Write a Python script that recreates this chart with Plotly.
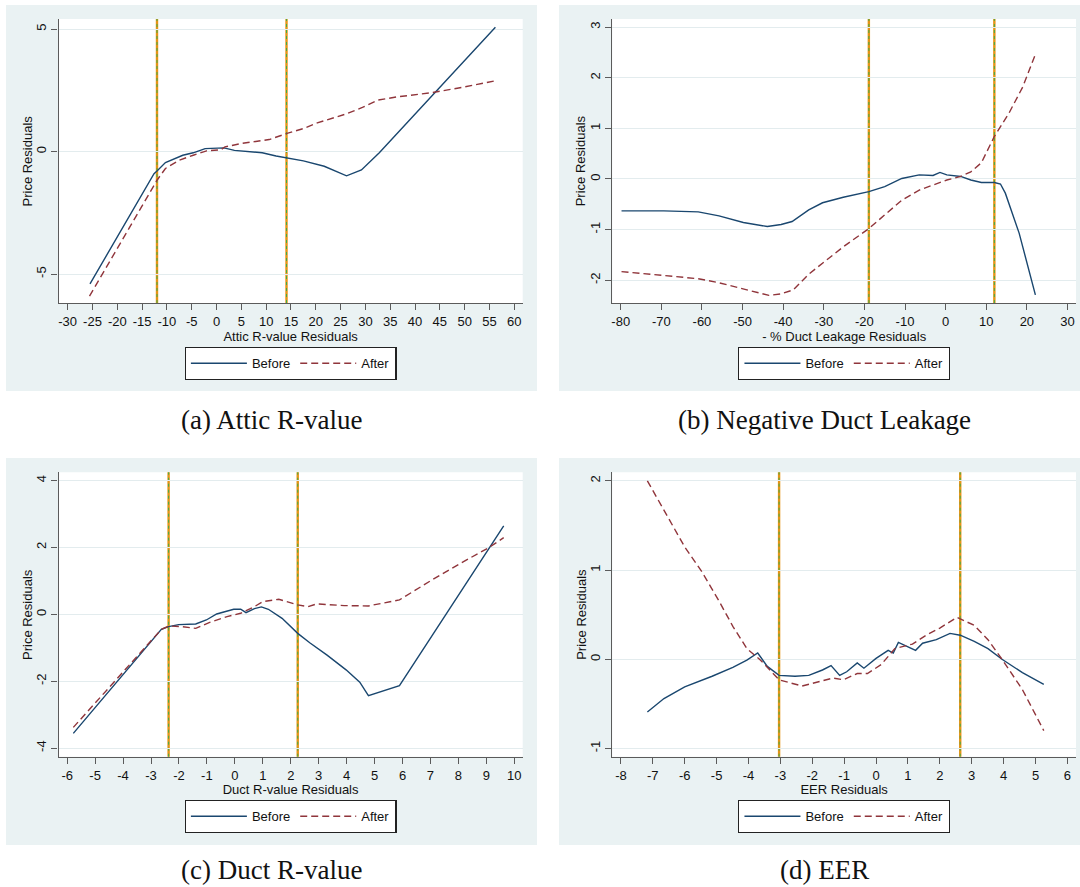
import plotly.graph_objects as go

# ---------------- data ----------------
# (a) Attic R-value
attic_before_x = [-25.5, -12.6, -12.0, -10.3, -6.8, -4.7, -2.3, 1.5, 3.6, 6.4, 9.2, 12.0, 14.2, 17.5, 21.7, 26.2, 29.2, 32.8, 56.2]
attic_before_y = [-5.40, -0.90, -0.79, -0.45, -0.15, -0.05, 0.12, 0.15, 0.05, 0.01, -0.05, -0.18, -0.26, -0.38, -0.60, -0.99, -0.75, -0.05, 5.07]
attic_after_x = [-25.6, -12.0, -10.3, -7.5, -4.7, -2.0, 0.8, 1.7, 5.0, 10.6, 14.2, 17.5, 20.3, 26.2, 29.4, 32.5, 36.3, 43.3, 49.5, 56.2]
attic_after_y = [-5.90, -1.17, -0.69, -0.35, -0.15, 0.03, 0.07, 0.19, 0.33, 0.49, 0.74, 0.94, 1.17, 1.54, 1.80, 2.10, 2.23, 2.40, 2.62, 2.89]
attic_cutoffs = [-12.0, 14.1]

# (b) Negative duct leakage
leak_before_x = [-79.8, -69.4, -60.9, -55.8, -49.8, -43.9, -40.5, -37.8, -33.7, -30.3, -25.2, -18.9, -15.0, -10.8, -6.5, -3.1, -1.4, 0.3, 3.7, 6.2, 8.8, 12.0, 13.5, 14.7, 18.1, 22.1]
leak_before_y = [-0.63, -0.63, -0.65, -0.73, -0.86, -0.94, -0.90, -0.84, -0.61, -0.47, -0.36, -0.25, -0.15, 0.01, 0.08, 0.07, 0.13, 0.08, 0.05, -0.02, -0.07, -0.07, -0.10, -0.28, -1.07, -2.29]
leak_after_x = [-79.8, -70.2, -60.9, -55.8, -49.0, -43.5, -40.5, -37.5, -33.7, -30.3, -25.2, -18.9, -15.0, -10.8, -6.5, -3.1, 0.3, 3.7, 6.2, 8.8, 12.0, 15.6, 19.0, 22.1]
leak_after_y = [-1.83, -1.90, -1.97, -2.05, -2.19, -2.30, -2.27, -2.19, -1.88, -1.67, -1.34, -0.98, -0.71, -0.42, -0.22, -0.12, -0.02, 0.05, 0.14, 0.32, 0.84, 1.30, 1.82, 2.46]
leak_cutoffs = [-18.9, 12.0]

# (c) Duct R-value
duct_before_x = [-5.78, -2.63, -2.37, -2.01, -1.40, -1.02, -0.65, -0.28, -0.04, 0.21, 0.40, 0.70, 0.95, 1.20, 1.69, 2.25, 2.68, 3.30, 3.98, 4.47, 4.78, 5.89, 9.62]
duct_before_y = [-3.56, -0.45, -0.37, -0.31, -0.29, -0.17, 0.01, 0.10, 0.15, 0.15, 0.05, 0.17, 0.22, 0.15, -0.12, -0.57, -0.85, -1.22, -1.66, -2.03, -2.43, -2.13, 2.64]
duct_after_x = [-5.78, -2.63, -2.37, -1.89, -1.40, -0.90, -0.28, 0.21, 0.70, 1.01, 1.57, 2.25, 2.62, 2.93, 3.91, 4.78, 5.89, 7.00, 8.11, 9.10, 9.62]
duct_after_y = [-3.38, -0.45, -0.35, -0.37, -0.42, -0.24, -0.07, 0.03, 0.23, 0.38, 0.45, 0.28, 0.23, 0.31, 0.26, 0.25, 0.43, 1.00, 1.54, 2.00, 2.29]
duct_cutoffs = [-2.37, 2.25]

# (d) EER
eer_before_x = [-7.17, -6.65, -6.00, -5.14, -4.49, -4.05, -3.71, -3.41, -3.04, -2.54, -2.11, -1.68, -1.41, -1.14, -0.92, -0.59, -0.38, 0.00, 0.38, 0.54, 0.70, 1.03, 1.24, 1.46, 1.89, 2.32, 2.64, 3.08, 3.51, 3.95, 4.59, 5.26]
eer_before_y = [-0.59, -0.44, -0.31, -0.19, -0.09, -0.01, 0.07, -0.08, -0.18, -0.19, -0.18, -0.12, -0.07, -0.18, -0.14, -0.04, -0.10, 0.01, 0.10, 0.07, 0.19, 0.14, 0.10, 0.18, 0.22, 0.29, 0.27, 0.20, 0.12, 0.00, -0.15, -0.28]
eer_after_x = [-7.17, -6.65, -6.00, -5.46, -4.92, -4.49, -4.05, -3.62, -3.04, -2.32, -1.89, -1.35, -1.03, -0.59, -0.27, 0.16, 0.59, 1.14, 1.57, 2.00, 2.54, 3.08, 3.51, 3.95, 4.59, 5.26]
eer_after_y = [2.00, 1.67, 1.26, 0.98, 0.65, 0.37, 0.12, -0.01, -0.23, -0.30, -0.26, -0.21, -0.23, -0.16, -0.16, -0.06, 0.12, 0.17, 0.27, 0.35, 0.47, 0.38, 0.22, 0.00, -0.34, -0.80]
eer_cutoffs = [-3.04, 2.64]

# axis ticks
attic_xticks = list(range(-30, 61, 5))
leak_xticks = list(range(-80, 31, 10))
duct_xticks = list(range(-6, 11, 1))
eer_xticks = list(range(-8, 7, 1))
attic_yticks = [-5, 0, 5]
leak_yticks = [-2, -1, 0, 1, 2, 3]
duct_yticks = [-4, -2, 0, 2, 4]
eer_yticks = [-1, 0, 1, 2]

x_titles = ["Attic R-value Residuals", "- % Duct Leakage Residuals", "Duct R-value Residuals", "EER Residuals"]
y_title = "Price Residuals"
captions = ["(a) Attic R-value", "(b) Negative Duct Leakage", "(c) Duct R-value", "(d) EER"]
series_names = ["Before", "After"]

# ---------------- layout geometry (pixels) ----------------
W, H = 1080, 887
SANS = "Liberation Sans, Arial, sans-serif"
SERIF = "Liberation Serif, Times New Roman, serif"
NAVY = "#1a476f"
MAROON = "#90353b"
PANEL_BG = "#eaf2f3"
AXIS_COL = "#5b5b5b"
TXT = "#111111"

def fx(p):
    return p / W

def fy(p):
    return 1 - p / H

# outer panel box, plot box (left, top, right, bottom), legend top, caption centre
panels = [
    dict(outer=(6, 5, 537, 391), plot=(58.5, 19, 522.7, 303), legend_top=347, cap=(271, 420)),
    dict(outer=(559, 5, 1090, 391), plot=(612.3, 19, 1076, 303), legend_top=347, cap=(824.5, 420)),
    dict(outer=(6, 458, 537, 845), plot=(58.5, 472.3, 522.7, 756.7), legend_top=800, cap=(271, 870)),
    dict(outer=(559, 458, 1090, 845), plot=(612.3, 472.3, 1076, 756.7), legend_top=800, cap=(824.5, 870)),
]

series = [
    (attic_before_x, attic_before_y, attic_after_x, attic_after_y, attic_cutoffs, attic_xticks, attic_yticks, (-31.85, 61.7), (-6.18, 5.41)),
    (leak_before_x, leak_before_y, leak_after_x, leak_after_y, leak_cutoffs, leak_xticks, leak_yticks, (-82.07, 32.1), (-2.45, 3.16)),
    (duct_before_x, duct_before_y, duct_after_x, duct_after_y, duct_cutoffs, duct_xticks, duct_yticks, (-6.31, 10.30), (-4.257, 4.245)),
    (eer_before_x, eer_before_y, eer_after_x, eer_after_y, eer_cutoffs, eer_xticks, eer_yticks, (-8.27, 6.27), (-1.092, 2.096)),
]

fig = go.Figure()
layout = dict(
    width=W, height=H,
    margin=dict(l=0, r=0, t=0, b=0),
    paper_bgcolor="white",
    plot_bgcolor="white",
    showlegend=True,
    font=dict(family=SANS, size=13, color=TXT),
)
shapes = []
annotations = []

for i, (pan, ser) in enumerate(zip(panels, series)):
    n = "" if i == 0 else str(i + 1)
    bx, by, ax_, ay, cuts, xt, yt, xr, yr = ser
    lg = "legend" + n

    fig.add_trace(go.Scatter(
        x=bx, y=by, mode="lines", name=series_names[0],
        line=dict(color=NAVY, width=1.4),
        xaxis="x" + n, yaxis="y" + n, legend=lg,
    ))
    fig.add_trace(go.Scatter(
        x=ax_, y=ay, mode="lines", name=series_names[1],
        line=dict(color=MAROON, width=1.4, dash="7px,4px"),
        xaxis="x" + n, yaxis="y" + n, legend=lg,
    ))

    l, t, r, b = pan["plot"]
    ol, ot, orr, ob = pan["outer"]

    layout["xaxis" + n] = dict(
        domain=[fx(l), fx(r)], anchor="y" + n, range=list(xr),
        tickvals=xt, ticktext=[str(v) for v in xt],
        showgrid=False, zeroline=False,
        showline=True, linecolor=AXIS_COL, linewidth=1.4,
        ticks="outside", ticklen=6, tickcolor=AXIS_COL, tickwidth=1.2,
        tickfont=dict(family=SANS, size=13, color=TXT),
        title=dict(text=x_titles[i], font=dict(family=SANS, size=13, color=TXT), standoff=2),
    )
    layout["yaxis" + n] = dict(
        domain=[fy(b), fy(t)], anchor="x" + n, range=list(yr),
        tickvals=yt, ticktext=[str(v) for v in yt], tickangle=-90,
        showgrid=True, gridcolor="#e3ecee", gridwidth=1, zeroline=False,
        showline=True, linecolor=AXIS_COL, linewidth=1.4,
        ticks="outside", ticklen=6, tickcolor=AXIS_COL, tickwidth=1.2,
        tickfont=dict(family=SANS, size=13, color=TXT),
    )
    layout[lg] = dict(
        x=fx((l + r) / 2), y=fy(pan["legend_top"]), xanchor="center", yanchor="top",
        orientation="h", bgcolor="white", bordercolor="#222222", borderwidth=1.3,
        font=dict(family=SANS, size=13, color=TXT), itemwidth=56,
    )

    # panel background and white plot region
    shapes.append(dict(type="rect", xref="paper", yref="paper", layer="below",
                       x0=fx(ol), x1=min(fx(orr), 1.0), y0=fy(ob), y1=fy(ot),
                       fillcolor=PANEL_BG, line=dict(width=0)))
    shapes.append(dict(type="rect", xref="paper", yref="paper", layer="below",
                       x0=fx(l), x1=fx(r), y0=fy(b), y1=fy(t),
                       fillcolor="white", line=dict(width=0)))

    # cutoff lines: orange with a green dashed overlay
    for c in cuts:
        shapes.append(dict(type="line", xref="x" + n, yref="y" + n + " domain", layer="below",
                           x0=c, x1=c, y0=0, y1=1, line=dict(color="#e69316", width=2.4)))
        shapes.append(dict(type="line", xref="x" + n, yref="y" + n + " domain", layer="below",
                           x0=c, x1=c, y0=0, y1=1, line=dict(color="#3fae49", width=1, dash="3px,3px")))

    # rotated y-axis title
    annotations.append(dict(text=y_title, xref="paper", yref="paper",
                            x=fx(l - 31), y=fy((t + b) / 2), xanchor="center", yanchor="middle",
                            textangle=-90, showarrow=False,
                            font=dict(family=SANS, size=13, color=TXT)))

    cx, cy = pan["cap"]
    annotations.append(dict(text=captions[i], xref="paper", yref="paper",
                            x=fx(cx), y=fy(cy), xanchor="center", yanchor="middle",
                            showarrow=False, font=dict(family=SERIF, size=27, color=TXT)))

layout["shapes"] = shapes
layout["annotations"] = annotations
fig.update_layout(**layout)

fig.write_html("out.html")
